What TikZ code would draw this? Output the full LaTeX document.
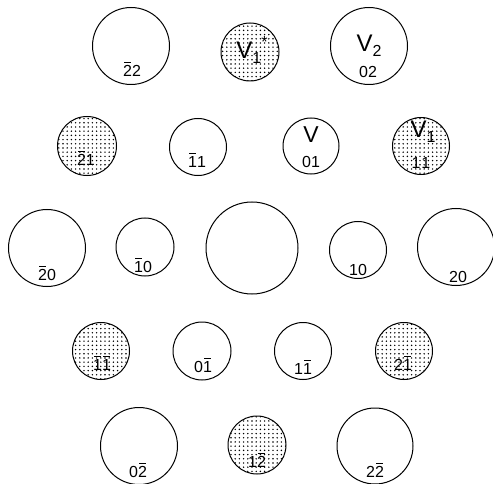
\documentclass[tikz,border=0pt]{standalone}
\usepackage{fontspec}
\setmainfont{Liberation Sans}
\usetikzlibrary{patterns.meta}
\newsavebox\obbox
\newcommand\ob[1]{\sbox\obbox{#1}\rlap{\kern1pt\raisebox{\dimexpr\ht\obbox+2.4pt}{\rule{\dimexpr\wd\obbox-2pt}{1.1pt}}}\usebox\obbox}
\newcommand\bigV[1]{{\fontsize{24}{24}\selectfont V}\raisebox{-5pt}{#1}}
\begin{document}
\begin{tikzpicture}[x=1pt,y=-1pt,
  ring/.style={circle, draw, line width=1pt, inner sep=0pt, minimum size=#1},
  ring/.default=57pt,
  dotfill/.style={pattern={Dots[radius=0.8pt,distance=4.2pt]}},
  idx/.style={font=\fontsize{16}{16}\selectfont, inner sep=0pt}]
\useasboundingbox (0,0) rectangle (493,484);
% row 1
\node[ring=77pt] (c22b) at (131,46) {};
\node[ring=58pt, dotfill] (cv1s) at (250,52) {};
\node[ring=77pt] (c02) at (369,46) {};
\node[idx] (t22b) at (132,69) {\ob{2}2};
\node[idx] (tv1s) at (252,50) {{\fontsize{24}{24}\selectfont V}\raisebox{-5pt}{1}\raisebox{11pt}{\fontsize{16}{16}\selectfont *}};
\node[idx] (tv2) at (369,46) {\bigV{2}};
\node[idx] (t02) at (368,72) {02};
% row 2
\node[ring=59pt, dotfill] (c21b) at (87,146) {};
\node[ring=57pt] (c11b) at (198,147) {};
\node[ring=56pt] (c01) at (311,146) {};
\node[ring=57pt, dotfill] (c11) at (421,146) {};
\node[idx] (t21b) at (86,158) {\ob{2}1};
\node[idx] (t11b) at (197,160) {\ob{1}1};
\node[idx] (tv) at (311,135) {\fontsize{23}{23}\selectfont V};
\node[idx] (t01) at (311,162) {01};
\node[idx] (tv1) at (423,132) {\bigV{1}};
\node[idx] (t11) at (421,163) {1\kern1pt1};
% row 3
\node[ring=77pt] (c20b) at (47,248) {};
\node[ring=58pt] (c10b) at (145,247) {};
\node[ring=92pt] (c00) at (252,248) {};
\node[ring=57pt] (c10) at (358,250) {};
\node[ring=77pt] (c20) at (456,247) {};
\node[idx] (t20b) at (47,273) {\ob{2}0};
\node[idx] (t10b) at (143,265) {\ob{1}0};
\node[idx] (t10) at (358,270) {10};
\node[idx] (t20) at (458,277) {20};
% row 4
\node[ring=57pt, dotfill] (c11bb) at (101,351) {};
\node[ring=58pt] (c01b) at (202,351) {};
\node[ring=57pt] (c11b2) at (303,351) {};
\node[ring=57pt, dotfill] (c21b2) at (404,351) {};
\node[idx] (t11bb) at (102,363) {\ob{1}\ob{1}};
\node[idx] (t01b) at (203,365) {0\ob{1}};
\node[idx] (t11b2) at (303,367) {1\ob{1}};
\node[idx] (t21b2) at (403,363) {2\ob{1}};
% row 5
\node[ring=77pt] (c02b) at (139,446) {};
\node[ring=58pt, dotfill] (c12b) at (257,445) {};
\node[ring=76pt] (c22b2) at (375,446) {};
\node[idx] (t02b) at (138,470) {0\ob{2}};
\node[idx] (t12b) at (257,460) {1\ob{2}};
\node[idx] (t22b2) at (375,470) {2\ob{2}};
\end{tikzpicture}
\end{document}
